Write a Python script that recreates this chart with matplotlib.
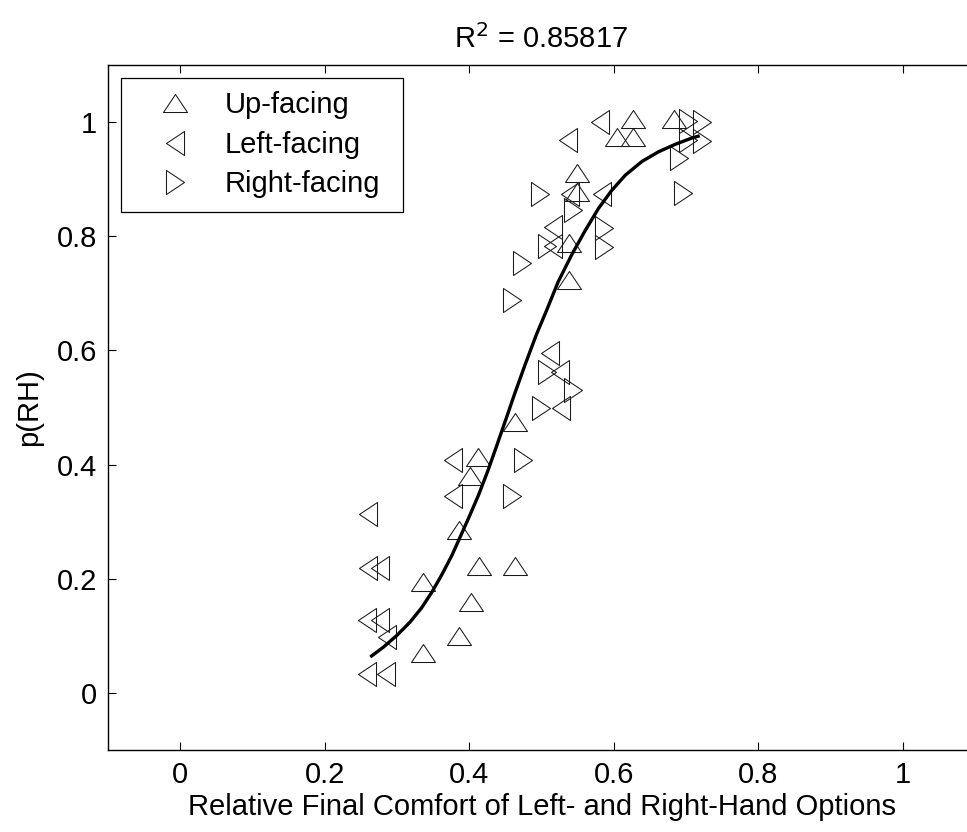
import matplotlib
matplotlib.use("Agg")
import matplotlib.pyplot as plt
from matplotlib.path import Path

plt.rcParams['font.family'] = ['Liberation Sans', 'DejaVu Sans']

# ---- data ----
up_x = [0.463, 0.412, 0.401, 0.386, 0.414, 0.463, 0.336, 0.402, 0.386, 0.336,
        0.627, 0.604, 0.627, 0.683, 0.549, 0.549, 0.538, 0.538]
up_y = [0.475, 0.413, 0.380, 0.285, 0.222, 0.222, 0.194, 0.159, 0.100, 0.070,
        1.005, 0.973, 0.973, 1.005, 0.910, 0.877, 0.788, 0.723]

left_x = [0.378, 0.378, 0.260, 0.260, 0.277, 0.258, 0.277, 0.286, 0.258, 0.285,
          0.512, 0.526, 0.527, 0.537, 0.581, 0.539, 0.584, 0.516, 0.516]
left_y = [0.408, 0.345, 0.313, 0.219, 0.219, 0.128, 0.128, 0.098, 0.033, 0.033,
          0.595, 0.562, 0.499, 0.968, 1.000, 0.874, 0.874, 0.816, 0.783]

right_x = [0.475, 0.459, 0.507, 0.544, 0.499, 0.498, 0.543, 0.587, 0.507, 0.587,
           0.473, 0.459, 0.703, 0.722, 0.703, 0.722, 0.690, 0.696]
right_y = [0.408, 0.345, 0.562, 0.531, 0.499, 0.874, 0.846, 0.814, 0.783, 0.781,
           0.753, 0.688, 1.002, 1.000, 0.968, 0.967, 0.937, 0.875]

# fitted curve, points
curve_x = [0.263, 0.281, 0.300, 0.318, 0.334, 0.348, 0.362, 0.376, 0.387, 0.399,
           0.413, 0.426, 0.438, 0.452, 0.462, 0.477, 0.493, 0.507, 0.523, 0.542,
           0.560, 0.579, 0.597, 0.616, 0.639, 0.662, 0.685, 0.708, 0.719]
curve_y = [0.063, 0.080, 0.101, 0.124, 0.149, 0.176, 0.207, 0.241, 0.272, 0.306,
           0.347, 0.390, 0.433, 0.484, 0.521, 0.574, 0.628, 0.670, 0.720, 0.768,
           0.809, 0.849, 0.880, 0.907, 0.931, 0.948, 0.961, 0.972, 0.976]

r2_text = "0.85817"
ticks = [0, 0.2, 0.4, 0.6, 0.8, 1.0]
tick_labels = ["0", "0.2", "0.4", "0.6", "0.8", "1"]
labels = ["Up-facing", "Left-facing", "Right-facing"]

# ---- markers (MATLAB-like flat triangles) ----
m_up = Path([(-1, -0.75), (1, -0.75), (0, 0.75), (-1, -0.75)],
            [Path.MOVETO, Path.LINETO, Path.LINETO, Path.CLOSEPOLY])
m_left = Path([(0.75, -1), (0.75, 1), (-0.75, 0), (0.75, -1)],
              [Path.MOVETO, Path.LINETO, Path.LINETO, Path.CLOSEPOLY])
m_right = Path([(-0.75, -1), (-0.75, 1), (0.75, 0), (-0.75, -1)],
               [Path.MOVETO, Path.LINETO, Path.LINETO, Path.CLOSEPOLY])

FS = 21
W, H = 967, 832
fig = plt.figure(figsize=(W / 100, H / 100), dpi=100)
ax = fig.add_axes([108 / W, (H - 750) / H, (975 - 108) / W, (750 - 65) / H])

mkw = dict(linestyle='none', markersize=17.3, markerfacecolor='none',
           markeredgecolor='#1a1a1a', markeredgewidth=0.75)
ax.plot(up_x, up_y, marker=m_up, label=labels[0], **mkw)
ax.plot(left_x, left_y, marker=m_left, label=labels[1], **mkw)
ax.plot(right_x, right_y, marker=m_right, label=labels[2], **mkw)
ax.plot(curve_x, curve_y, color='black', linewidth=2.4,
        solid_capstyle='butt', solid_joinstyle='round')

ax.set_xlim(-0.1, 1.1)
ax.set_ylim(-0.1, 1.1)
ax.set_xticks(ticks)
ax.set_xticklabels(tick_labels)
ax.set_yticks(ticks)
ax.set_yticklabels(tick_labels)
ax.tick_params(direction='in', length=6, width=0.8, top=True, right=True,
               labelsize=FS, colors='black', pad=8)
for s in ax.spines.values():
    s.set_linewidth(1.0)
    s.set_color('black')

ax.set_xlabel("Relative Final Comfort of Left- and Right-Hand Options", fontsize=FS, labelpad=3)
ax.set_ylabel("p(RH)", fontsize=FS, labelpad=10)
ax.set_title("R$^2$ = " + r2_text, fontsize=FS, pad=12)

x0 = (121 - 108) / 867
y_top = (750 - 78) / 685
lw_ = (403 - 121) / 867
lh_ = (210 - 78) / 685
leg = ax.legend(loc='upper left', bbox_to_anchor=(x0, y_top - lh_, lw_, lh_),
                mode='expand',
                fontsize=FS, frameon=True, fancybox=False, edgecolor='black',
                framealpha=1, borderpad=0.45, labelspacing=0.4, handlelength=2.8,
                handletextpad=0.3, borderaxespad=0, markerscale=1.0)
leg.get_frame().set_linewidth(0.9)

fig.savefig("out.png", dpi=100)
